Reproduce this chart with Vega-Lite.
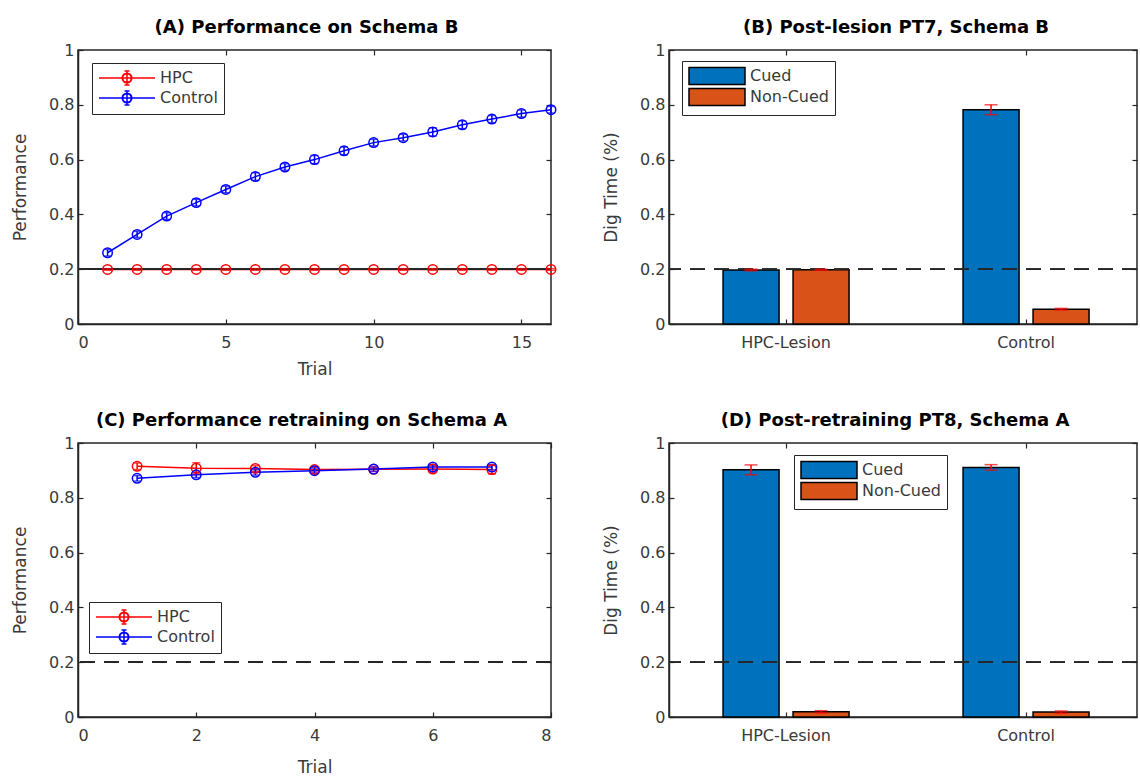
{
  "$schema": "https://vega.github.io/schema/vega-lite/v6.json",
  "background": "white",
  "padding": {"left": 10, "top": 18, "right": 0, "bottom": 0},
  "columns": 2,
  "spacing": {"row": 119, "column": 118},
  "bounds": "flush",
  "resolve": {"scale": {"color": "independent", "stroke": "independent"}, "legend": {"color": "independent", "stroke": "independent"}},
  "concat": [
    {
      "width": 473, "height": 274,
      "title": {"text": "(A) Performance on Schema B", "dx": -8, "offset": 5},
      "data": {"values": [
        {"trial": 1, "group": "HPC", "perf": 0.199, "err": 0.003},
        {"trial": 2, "group": "HPC", "perf": 0.199, "err": 0.003},
        {"trial": 3, "group": "HPC", "perf": 0.199, "err": 0.003},
        {"trial": 4, "group": "HPC", "perf": 0.199, "err": 0.003},
        {"trial": 5, "group": "HPC", "perf": 0.199, "err": 0.003},
        {"trial": 6, "group": "HPC", "perf": 0.199, "err": 0.003},
        {"trial": 7, "group": "HPC", "perf": 0.199, "err": 0.003},
        {"trial": 8, "group": "HPC", "perf": 0.199, "err": 0.003},
        {"trial": 9, "group": "HPC", "perf": 0.199, "err": 0.003},
        {"trial": 10, "group": "HPC", "perf": 0.199, "err": 0.003},
        {"trial": 11, "group": "HPC", "perf": 0.199, "err": 0.003},
        {"trial": 12, "group": "HPC", "perf": 0.199, "err": 0.003},
        {"trial": 13, "group": "HPC", "perf": 0.199, "err": 0.003},
        {"trial": 14, "group": "HPC", "perf": 0.199, "err": 0.003},
        {"trial": 15, "group": "HPC", "perf": 0.199, "err": 0.003},
        {"trial": 16, "group": "HPC", "perf": 0.199, "err": 0.003},
        {"trial": 1, "group": "Control", "perf": 0.26, "err": 0.012},
        {"trial": 2, "group": "Control", "perf": 0.327, "err": 0.011},
        {"trial": 3, "group": "Control", "perf": 0.394, "err": 0.012},
        {"trial": 4, "group": "Control", "perf": 0.443, "err": 0.012},
        {"trial": 5, "group": "Control", "perf": 0.491, "err": 0.012},
        {"trial": 6, "group": "Control", "perf": 0.538, "err": 0.014},
        {"trial": 7, "group": "Control", "perf": 0.573, "err": 0.012},
        {"trial": 8, "group": "Control", "perf": 0.6, "err": 0.015},
        {"trial": 9, "group": "Control", "perf": 0.632, "err": 0.014},
        {"trial": 10, "group": "Control", "perf": 0.662, "err": 0.012},
        {"trial": 11, "group": "Control", "perf": 0.68, "err": 0.012},
        {"trial": 12, "group": "Control", "perf": 0.701, "err": 0.015},
        {"trial": 13, "group": "Control", "perf": 0.727, "err": 0.014},
        {"trial": 14, "group": "Control", "perf": 0.748, "err": 0.013},
        {"trial": 15, "group": "Control", "perf": 0.768, "err": 0.013},
        {"trial": 16, "group": "Control", "perf": 0.782, "err": 0.012}
      ]},
      "resolve": {"axis": {"x": "independent", "y": "independent"}},
      "layer": [
        {"mark": {"type": "line", "strokeWidth": 1.5},
         "encoding": {
          "x": {"field": "trial", "type": "quantitative", "scale": {"domain": [0, 16], "nice": false}, "axis": {"values": [0, 5, 10, 15], "title": "Trial", "titlePadding": 11}},
          "y": {"field": "perf", "type": "quantitative", "scale": {"domain": [0, 1], "nice": false}, "axis": {"values": [0, 0.2, 0.4, 0.6, 0.8, 1], "format": ".1~f", "title": "Performance"}},
          "stroke": {"field": "group", "type": "nominal", "scale": {"domain": ["HPC", "Control"], "range": ["#ff0000", "#0000ff"]},
          "legend": {"title": null, "orient": "none", "legendX": 14, "legendY": 13, "symbolType": "M-1,0H6M1.9,0A0.6,0.6 0 1,0 3.1,0A0.6,0.6 0 1,0 1.9,0ZM1.96,0A0.54,0.54 0 1,1 3.04,0A0.54,0.54 0 1,1 1.96,0ZM2.5,-0.875V0.875M2.19,-0.875H2.81M2.19,0.875H2.81", "symbolSize": 256, "labelOffset": 44, "symbolFillColor": "transparent", "symbolStrokeWidth": 1.5, "rowPadding": 0}}}},
        {"mark": {"type": "rule", "color": "#262626", "strokeWidth": 1.5}, "encoding": {"y": {"datum": 0.2, "axis": null}}},
        {"mark": {"type": "errorbar", "ticks": true, "size": 8, "thickness": 1.5},
         "encoding": {
          "x": {"field": "trial", "type": "quantitative", "axis": {"orient": "top", "values": [0, 5, 10, 15], "labels": false, "title": null, "domain": false}},
          "y": {"field": "perf", "type": "quantitative", "axis": {"orient": "right", "values": [0, 0.2, 0.4, 0.6, 0.8, 1], "labels": false, "title": null, "domain": false}},
          "yError": {"field": "err"},
          "color": {"field": "group", "type": "nominal", "scale": {"domain": ["HPC", "Control"], "range": ["#ff0000", "#0000ff"]}, "legend": null}}},
        {"mark": {"type": "point", "shape": "circle", "filled": false, "size": 90, "strokeWidth": 1.5, "opacity": 1},
         "encoding": {
          "x": {"field": "trial", "type": "quantitative", "axis": null},
          "y": {"field": "perf", "type": "quantitative", "axis": null},
          "stroke": {"field": "group", "type": "nominal"}}}
      ]
    },
    {
      "width": 468, "height": 274,
      "title": {"text": "(B) Post-lesion PT7, Schema B", "dx": -7, "offset": 5},
      "data": {"values": [
        {"group": "HPC-Lesion", "cond": "Cued", "v": 0.197, "err": 0.003},
        {"group": "HPC-Lesion", "cond": "Non-Cued", "v": 0.198, "err": 0.002},
        {"group": "Control", "cond": "Cued", "v": 0.782, "err": 0.018},
        {"group": "Control", "cond": "Non-Cued", "v": 0.054, "err": 0.003}
      ]},
      "resolve": {"axis": {"x": "independent", "y": "independent"}},
      "layer": [
        {"mark": {"type": "bar", "stroke": "black", "strokeWidth": 1.5},
         "encoding": {
           "x": {"field": "group", "type": "nominal", "sort": ["HPC-Lesion", "Control"], "scale": {"paddingInner": 0.475, "paddingOuter": 0.2125, "align": 0.53}, "axis": {"title": null, "labelAngle": 0}},
           "xOffset": {"field": "cond", "type": "nominal", "sort": ["Cued", "Non-Cued"], "scale": {"paddingInner": 0.2, "paddingOuter": 0}},
           "y": {"field": "v", "type": "quantitative", "scale": {"domain": [0, 1], "nice": false}, "axis": {"values": [0, 0.2, 0.4, 0.6, 0.8, 1], "format": ".1~f", "title": "Dig Time (%)"}},
           "color": {"field": "cond", "type": "nominal", "scale": {"domain": ["Cued", "Non-Cued"], "range": ["#0072BD", "#D95319"]},
             "legend": {"title": null, "orient": "none", "legendX": 13, "legendY": 11, "symbolType": "M-1,-1.06H6V1.06H-1Z", "symbolSize": 256, "labelOffset": 44, "symbolStrokeColor": "black", "symbolStrokeWidth": 1.5, "symbolOpacity": 1, "rowPadding": -4}}
         }},
        {"mark": {"type": "rule", "strokeDash": [15, 9], "color": "#262626", "strokeWidth": 1.5}, "encoding": {"y": {"datum": 0.2, "axis": null}}},
        {"mark": {"type": "errorbar", "color": "#ff0000", "ticks": true, "size": 13, "thickness": 1.5},
         "encoding": {
           "x": {"field": "group", "type": "nominal", "sort": ["HPC-Lesion", "Control"], "axis": {"orient": "top", "labels": false, "title": null, "domain": false}},
           "xOffset": {"field": "cond", "type": "nominal", "sort": ["Cued", "Non-Cued"]},
           "y": {"field": "v", "type": "quantitative", "axis": {"orient": "right", "values": [0, 0.2, 0.4, 0.6, 0.8, 1], "labels": false, "title": null, "domain": false}},
           "yError": {"field": "err"}
         }}
      ]
    },
    {
      "width": 473, "height": 274,
      "title": {"text": "(C) Performance retraining on Schema A", "dx": -13, "offset": 5},
      "data": {"values": [
        {"trial": 1, "group": "HPC", "perf": 0.915, "err": 0.012},
        {"trial": 2, "group": "HPC", "perf": 0.908, "err": 0.02},
        {"trial": 3, "group": "HPC", "perf": 0.907, "err": 0.01},
        {"trial": 4, "group": "HPC", "perf": 0.903, "err": 0.01},
        {"trial": 5, "group": "HPC", "perf": 0.904, "err": 0.008},
        {"trial": 6, "group": "HPC", "perf": 0.905, "err": 0.012},
        {"trial": 7, "group": "HPC", "perf": 0.903, "err": 0.016},
        {"trial": 1, "group": "Control", "perf": 0.871, "err": 0.01},
        {"trial": 2, "group": "Control", "perf": 0.884, "err": 0.01},
        {"trial": 3, "group": "Control", "perf": 0.893, "err": 0.01},
        {"trial": 4, "group": "Control", "perf": 0.899, "err": 0.01},
        {"trial": 5, "group": "Control", "perf": 0.905, "err": 0.008},
        {"trial": 6, "group": "Control", "perf": 0.912, "err": 0.01},
        {"trial": 7, "group": "Control", "perf": 0.912, "err": 0.01}
      ]},
      "resolve": {"axis": {"x": "independent", "y": "independent"}},
      "layer": [
        {"mark": {"type": "rule", "strokeDash": [15, 9], "color": "#262626", "strokeWidth": 1.5}, "encoding": {"y": {"datum": 0.2, "axis": null}}},
        {"mark": {"type": "line", "strokeWidth": 1.5},
         "encoding": {
          "x": {"field": "trial", "type": "quantitative", "scale": {"domain": [0, 8], "nice": false}, "axis": {"values": [0, 2, 4, 6, 8], "title": "Trial", "titlePadding": 16}},
          "y": {"field": "perf", "type": "quantitative", "scale": {"domain": [0, 1], "nice": false}, "axis": {"values": [0, 0.2, 0.4, 0.6, 0.8, 1], "format": ".1~f", "title": "Performance"}},
          "stroke": {"field": "group", "type": "nominal", "scale": {"domain": ["HPC", "Control"], "range": ["#ff0000", "#0000ff"]},
          "legend": {"title": null, "orient": "none", "legendX": 11, "legendY": 159, "symbolType": "M-1,0H6M1.9,0A0.6,0.6 0 1,0 3.1,0A0.6,0.6 0 1,0 1.9,0ZM1.96,0A0.54,0.54 0 1,1 3.04,0A0.54,0.54 0 1,1 1.96,0ZM2.5,-0.875V0.875M2.19,-0.875H2.81M2.19,0.875H2.81", "symbolSize": 256, "labelOffset": 44, "symbolFillColor": "transparent", "symbolStrokeWidth": 1.5, "rowPadding": 0}}}},
        {"mark": {"type": "errorbar", "ticks": true, "size": 8, "thickness": 1.5},
         "encoding": {
          "x": {"field": "trial", "type": "quantitative", "axis": {"orient": "top", "values": [0, 2, 4, 6, 8], "labels": false, "title": null, "domain": false}},
          "y": {"field": "perf", "type": "quantitative", "axis": {"orient": "right", "values": [0, 0.2, 0.4, 0.6, 0.8, 1], "labels": false, "title": null, "domain": false}},
          "yError": {"field": "err"},
          "color": {"field": "group", "type": "nominal", "scale": {"domain": ["HPC", "Control"], "range": ["#ff0000", "#0000ff"]}, "legend": null}}},
        {"mark": {"type": "point", "shape": "circle", "filled": false, "size": 90, "strokeWidth": 1.5, "opacity": 1},
         "encoding": {
          "x": {"field": "trial", "type": "quantitative", "axis": null},
          "y": {"field": "perf", "type": "quantitative", "axis": null},
          "stroke": {"field": "group", "type": "nominal"}}}
      ]
    },
    {
      "width": 468, "height": 274,
      "title": {"text": "(D) Post-retraining PT8, Schema A", "dx": -8, "offset": 5},
      "data": {"values": [
        {"group": "HPC-Lesion", "cond": "Cued", "v": 0.902, "err": 0.018},
        {"group": "HPC-Lesion", "cond": "Non-Cued", "v": 0.019, "err": 0.004},
        {"group": "Control", "cond": "Cued", "v": 0.911, "err": 0.01},
        {"group": "Control", "cond": "Non-Cued", "v": 0.018, "err": 0.004}
      ]},
      "resolve": {"axis": {"x": "independent", "y": "independent"}},
      "layer": [
        {"mark": {"type": "bar", "stroke": "black", "strokeWidth": 1.5},
         "encoding": {
           "x": {"field": "group", "type": "nominal", "sort": ["HPC-Lesion", "Control"], "scale": {"paddingInner": 0.475, "paddingOuter": 0.2125, "align": 0.53}, "axis": {"title": null, "labelAngle": 0}},
           "xOffset": {"field": "cond", "type": "nominal", "sort": ["Cued", "Non-Cued"], "scale": {"paddingInner": 0.2, "paddingOuter": 0}},
           "y": {"field": "v", "type": "quantitative", "scale": {"domain": [0, 1], "nice": false}, "axis": {"values": [0, 0.2, 0.4, 0.6, 0.8, 1], "format": ".1~f", "title": "Dig Time (%)"}},
           "color": {"field": "cond", "type": "nominal", "scale": {"domain": ["Cued", "Non-Cued"], "range": ["#0072BD", "#D95319"]},
             "legend": {"title": null, "orient": "none", "legendX": 125, "legendY": 12, "symbolType": "M-1,-1.06H6V1.06H-1Z", "symbolSize": 256, "labelOffset": 44, "symbolStrokeColor": "black", "symbolStrokeWidth": 1.5, "symbolOpacity": 1, "rowPadding": -4}}
         }},
        {"mark": {"type": "rule", "strokeDash": [15, 9], "color": "#262626", "strokeWidth": 1.5}, "encoding": {"y": {"datum": 0.2, "axis": null}}},
        {"mark": {"type": "errorbar", "color": "#ff0000", "ticks": true, "size": 13, "thickness": 1.5},
         "encoding": {
           "x": {"field": "group", "type": "nominal", "sort": ["HPC-Lesion", "Control"], "axis": {"orient": "top", "labels": false, "title": null, "domain": false}},
           "xOffset": {"field": "cond", "type": "nominal", "sort": ["Cued", "Non-Cued"]},
           "y": {"field": "v", "type": "quantitative", "axis": {"orient": "right", "values": [0, 0.2, 0.4, 0.6, 0.8, 1], "labels": false, "title": null, "domain": false}},
           "yError": {"field": "err"}
         }}
      ]
    }
  ],
  "config": {
    "font": "DejaVu Sans",
    "view": {"stroke": "#262626", "strokeWidth": 1.5},
    "axis": {"domainColor": "#262626", "domainWidth": 1.5, "tickColor": "#262626", "tickWidth": 1.2, "tickSize": -5, "labelFont": "DejaVu Sans", "labelFontSize": 16, "labelColor": "#3a3a3a", "titleFont": "DejaVu Sans", "titleFontSize": 17, "titleFontWeight": "normal", "titleColor": "#3a3a3a", "grid": false},
    "axisX": {"labelPadding": 15, "titlePadding": 11},
    "axisY": {"labelPadding": 9, "titlePadding": 19},
    "title": {"font": "DejaVu Sans", "fontSize": 18, "fontWeight": "bold", "color": "#000000", "anchor": "middle"},
    "legend": {"labelFont": "DejaVu Sans", "labelFontSize": 16, "labelColor": "#3a3a3a", "strokeColor": "#262626", "fillColor": "white", "padding": 6, "cornerRadius": 0}
  }
}
